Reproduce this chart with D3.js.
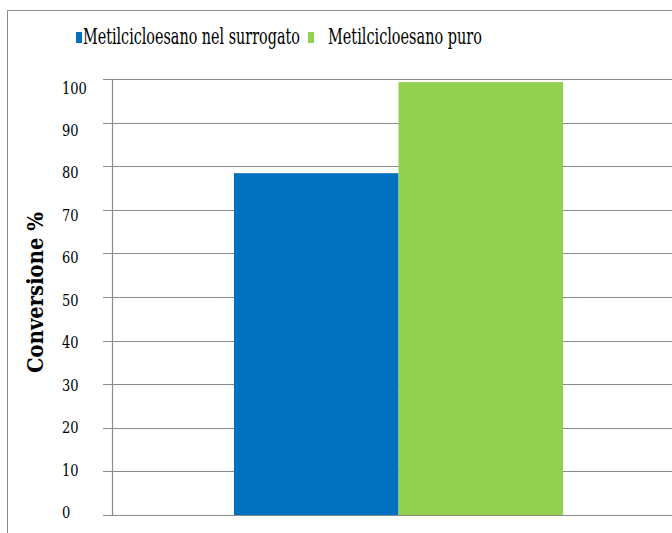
<!DOCTYPE html>
<html lang="it">
<head>
<meta charset="UTF-8">
<title>Conversione</title>
<style>
  body { margin: 0; background: #fff; }
</style>
</head>
<body>
<div id="chart"></div>
<script src="https://cdn.jsdelivr.net/npm/d3@7/dist/d3.min.js"></script>
<script>
var series = ["Metilcicloesano nel surrogato", "Metilcicloesano puro"];
var values = [78.4, 99.3];
var colors = ["#0070C0", "#92D050"];
var yTicks = [0, 10, 20, 30, 40, 50, 60, 70, 80, 90, 100];

var width = 672, height = 533;
var svg = d3.select("#chart").append("svg")
    .attr("width", width)
    .attr("height", height)
    .style("font-family", "'DejaVu Serif', serif");

// squeeze a text horizontally so it takes the given width
function fit(sel, w, x, yy, extra) {
    sel.each(function() {
        var n = this.getComputedTextLength();
        var k = w / n;
        d3.select(this).attr("transform",
            "translate(" + x + "," + yy + ")" + (extra || "") + " scale(" + k + ",1)");
    });
}

// frame
svg.append("rect")
    .attr("x", 7.5).attr("y", 10.5)
    .attr("width", 700).attr("height", 560)
    .attr("fill", "#fff")
    .attr("stroke", "#8c8c8c");

var y = d3.scaleLinear().domain([0, 100]).range([515, 79]);
var yLab = d3.scaleLinear().domain([0, 100]).range([512, 87.5]);
var x = d3.scaleBand().domain(series).range([234, 563]).padding(0);

// gridlines + tick marks
svg.append("g").selectAll("line")
    .data(yTicks)
    .enter().append("line")
    .attr("x1", 103).attr("x2", width)
    .attr("y1", function(d){ return Math.round(y(d)) + 0.5; })
    .attr("y2", function(d){ return Math.round(y(d)) + 0.5; })
    .attr("stroke", "#8a8a8a")
    .attr("stroke-width", 1.2);

// y axis line
svg.append("line")
    .attr("x1", 112.5).attr("x2", 112.5)
    .attr("y1", y(100)).attr("y2", y(0))
    .attr("stroke", "#8a8a8a")
    .attr("stroke-width", 1.2);

// tick labels
svg.append("g").selectAll("text")
    .data(yTicks)
    .enter().append("text")
    .attr("font-size", 16)
    .attr("fill", "#000")
    .text(function(d){ return d; })
    .each(function(d) {
        var w = String(d).length * 8.3;
        fit(d3.select(this), w, 62, yLab(d) + 6);
    });

// bars
svg.append("g").selectAll("rect")
    .data(values)
    .enter().append("rect")
    .attr("x", function(d, i){ return x(series[i]); })
    .attr("width", x.bandwidth())
    .attr("y", function(d){ return y(d); })
    .attr("height", function(d){ return y(0) - y(d); })
    .attr("fill", function(d, i){ return colors[i]; });

// y label
var yl = svg.append("text")
    .attr("font-size", 23)
    .attr("font-weight", "bold")
    .text("Conversione %");
fit(yl, 161, 43, 373, " rotate(-90)");

// legend
var legendPos = [{sx: 76, tx: 83, tw: 217}, {sx: 308, tx: 328, tw: 154}];
var lg = svg.append("g").selectAll("g")
    .data(series)
    .enter().append("g");
lg.append("rect")
    .attr("x", function(d, i){ return legendPos[i].sx; })
    .attr("y", 32)
    .attr("width", 6).attr("height", 11)
    .attr("fill", function(d, i){ return colors[i]; });
lg.append("text")
    .attr("font-size", 22)
    .text(function(d){ return d; })
    .each(function(d, i) {
        fit(d3.select(this), legendPos[i].tw, legendPos[i].tx, 44);
    });
</script>
</body>
</html>
